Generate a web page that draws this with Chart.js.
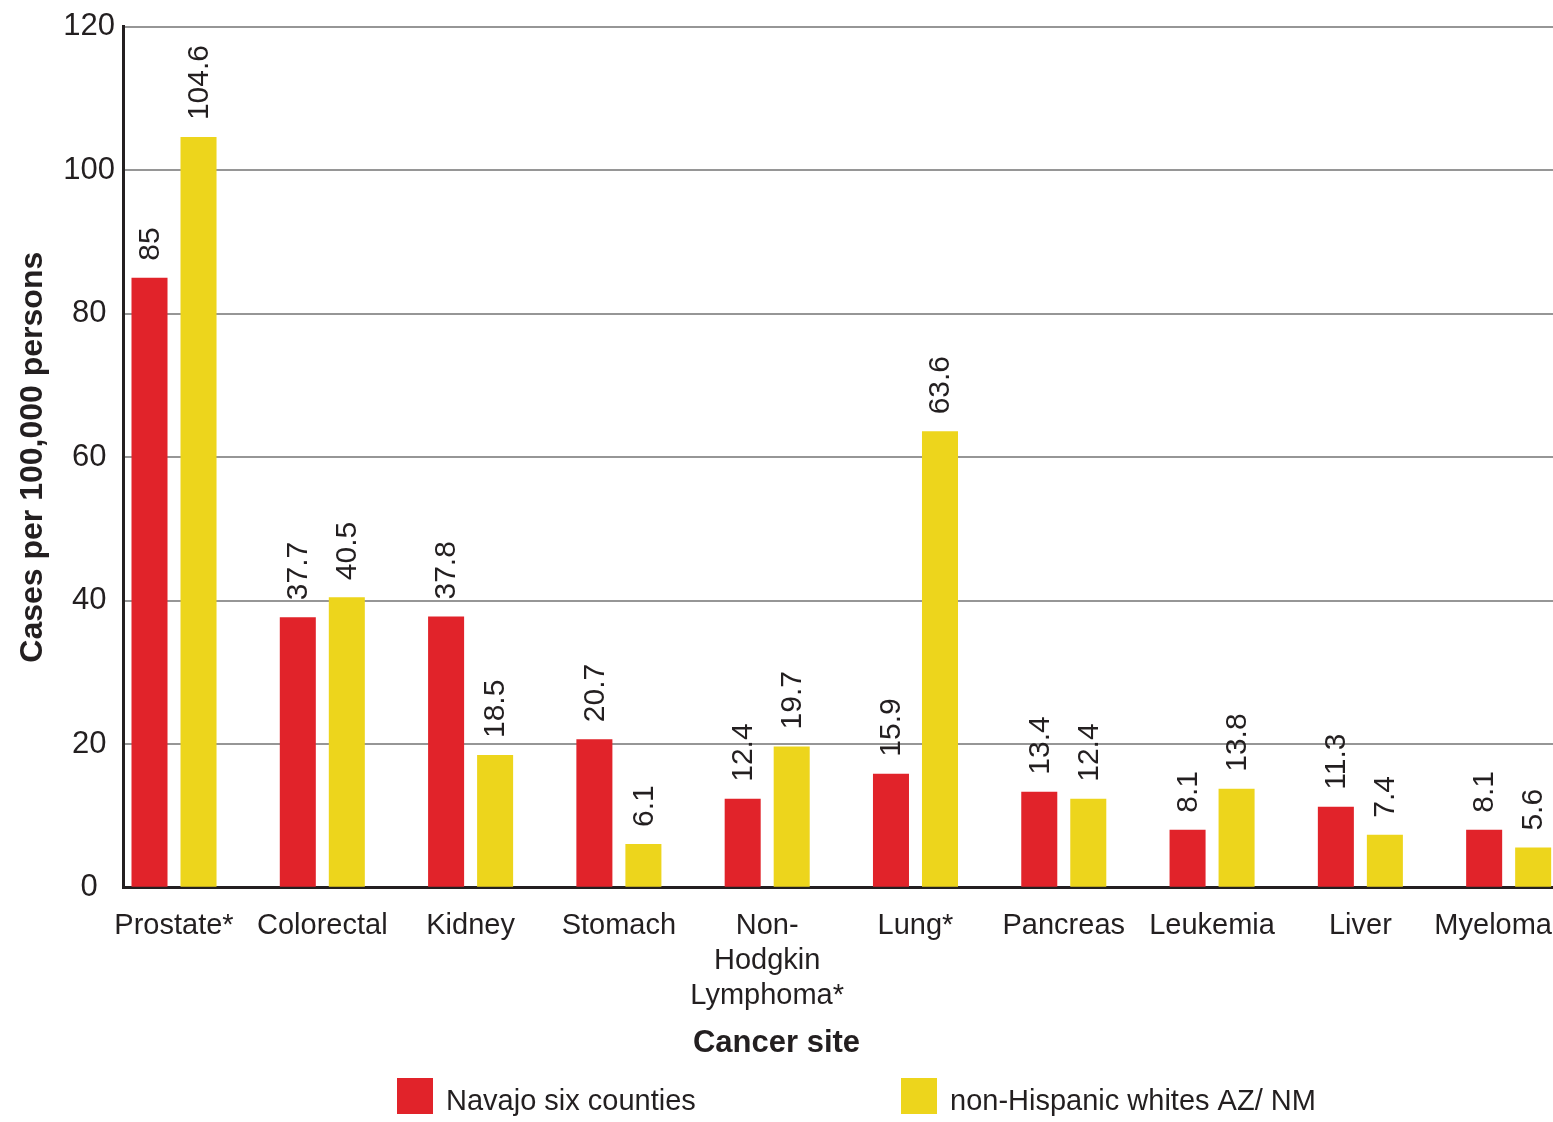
<!DOCTYPE html>
<html>
<head>
<meta charset="utf-8">
<script src="https://cdn.jsdelivr.net/npm/chart.js@4/dist/chart.umd.min.js"></script>
<style>
  html, body { margin: 0; padding: 0; background: #ffffff; overflow: hidden; }
  #wrap { position: relative; width: 1553px; height: 1122px; }
</style>
</head>
<body>
<div id="wrap"><canvas id="c"></canvas></div>
<script>
// ---- data ----
const categories = ['Prostate*', 'Colorectal', 'Kidney', 'Stomach', ['Non-', 'Hodgkin', 'Lymphoma*'], 'Lung*', 'Pancreas', 'Leukemia', 'Liver', 'Myeloma'];
const seriesNames = ['Navajo six counties', 'non-Hispanic whites AZ/ NM'];
const navajo = [85, 37.7, 37.8, 20.7, 12.4, 15.9, 13.4, 8.1, 11.3, 8.1];
const nhWhites = [104.6, 40.5, 18.5, 6.1, 19.7, 63.6, 12.4, 13.8, 7.4, 5.6];
const yTicks = [0, 20, 40, 60, 80, 100, 120];

// ---- styles ----
const FONT = "'Liberation Sans', Arial, Helvetica, sans-serif";
const TEXT = '#231F20';
const RED = '#E1232A';
const YELLOW = '#EDD51C';
const GRID = '#969696';

const toPoints = (arr) => arr.map((v, i) => ({ x: i, y: v }));

// value labels (rotated) above bars
const valueLabels = {
  id: 'valueLabels',
  afterDatasetsDraw(chart) {
    const ctx = chart.ctx;
    ctx.save();
    ctx.font = '30px ' + FONT;
    ctx.fillStyle = TEXT;
    ctx.textAlign = 'left';
    ctx.textBaseline = 'middle';
    chart.data.datasets.forEach((ds, di) => {
      const meta = chart.getDatasetMeta(di);
      meta.data.forEach((bar, i) => {
        const v = ds.data[i].y;
        ctx.save();
        ctx.translate(bar.x, bar.y - 17);
        ctx.rotate(-Math.PI / 2);
        ctx.fillText(String(v), 0, 1);
        ctx.restore();
      });
    });
    ctx.restore();
  }
};

// category labels under the axis, centred on the scale position (kept inside canvas)
const categoryLabels = {
  id: 'categoryLabels',
  afterDraw(chart) {
    const ctx = chart.ctx;
    const xs = chart.scales.x;
    const top = chart.chartArea.bottom + 38;
    ctx.save();
    ctx.font = '29px ' + FONT;
    ctx.fillStyle = TEXT;
    ctx.textAlign = 'center';
    ctx.textBaseline = 'middle';
    categories.forEach((lab, i) => {
      const lines = Array.isArray(lab) ? lab : [lab];
      const w = Math.max(...lines.map(l => ctx.measureText(l).width));
      let px = xs.getPixelForValue(i);
      px = Math.min(Math.max(px, w / 2 + 1), chart.width - w / 2 - 1);
      lines.forEach((l, k) => ctx.fillText(l, px, top + k * 35));
    });
    ctx.restore();
  }
};

// legend row at the bottom
const bottomLegend = {
  id: 'bottomLegend',
  afterDraw(chart) {
    const ctx = chart.ctx;
    const items = [
      { color: RED, text: seriesNames[0], x: 397 },
      { color: YELLOW, text: seriesNames[1], x: 901 }
    ];
    ctx.save();
    ctx.font = '29px ' + FONT;
    ctx.textAlign = 'left';
    ctx.textBaseline = 'middle';
    items.forEach(it => {
      ctx.fillStyle = it.color;
      ctx.fillRect(it.x, 1078, 36, 36);
      ctx.fillStyle = TEXT;
      ctx.fillText(it.text, it.x + 49, 1102);
    });
    ctx.restore();
  }
};

new Chart(document.getElementById('c'), {
  type: 'bar',
  data: {
    datasets: [
      { label: seriesNames[0], data: toPoints(navajo), backgroundColor: RED, borderWidth: 0 },
      { label: seriesNames[1], data: toPoints(nhWhites), backgroundColor: YELLOW, borderWidth: 0 }
    ]
  },
  options: {
    responsive: true,
    maintainAspectRatio: false,
    devicePixelRatio: 1,
    animation: false,
    categoryPercentage: 0.661,
    barPercentage: 0.735,
    layout: { padding: { top: 4, left: 0, right: 0, bottom: 0 } },
    plugins: {
      legend: { display: false },
      tooltip: { enabled: false },
      title: {
        display: true,
        position: 'bottom',
        text: 'Cancer site',
        color: TEXT,
        font: { family: FONT, size: 31, weight: 'bold' },
        padding: { top: 0, bottom: 60 }
      }
    },
    scales: {
      x: {
        type: 'linear',
        offset: false,
        min: -0.344,
        max: 9.299,
        afterBuildTicks: (s) => { s.ticks = categories.map((_, i) => ({ value: i })); },
        afterFit: (s) => { s.height = 137; s.paddingLeft = 0; s.paddingRight = 0; },
        grid: { display: false },
        border: { display: true, color: TEXT, width: 3 },
        ticks: { display: false }
      },
      y: {
        min: 0,
        max: 120,
        afterBuildTicks: (s) => { s.ticks = yTicks.map(v => ({ value: v })); },
        afterFit: (s) => { s.width = 123; },
        grid: {
          color: (c) => (c.tick && c.tick.value === 0) ? 'rgba(0,0,0,0)' : GRID,
          lineWidth: 2,
          drawTicks: false
        },
        border: { display: true, color: TEXT, width: 3 },
        ticks: {
          color: TEXT,
          font: { family: FONT, size: 31 },
          crossAlign: 'center',
          padding: 8
        },
        title: {
          display: true,
          text: 'Cases per 100,000 persons',
          color: TEXT,
          font: { family: FONT, size: 32, weight: 'bold' },
          padding: { top: 14, bottom: 0 }
        }
      }
    }
  },
  plugins: [valueLabels, categoryLabels, bottomLegend]
});
</script>
</body>
</html>
